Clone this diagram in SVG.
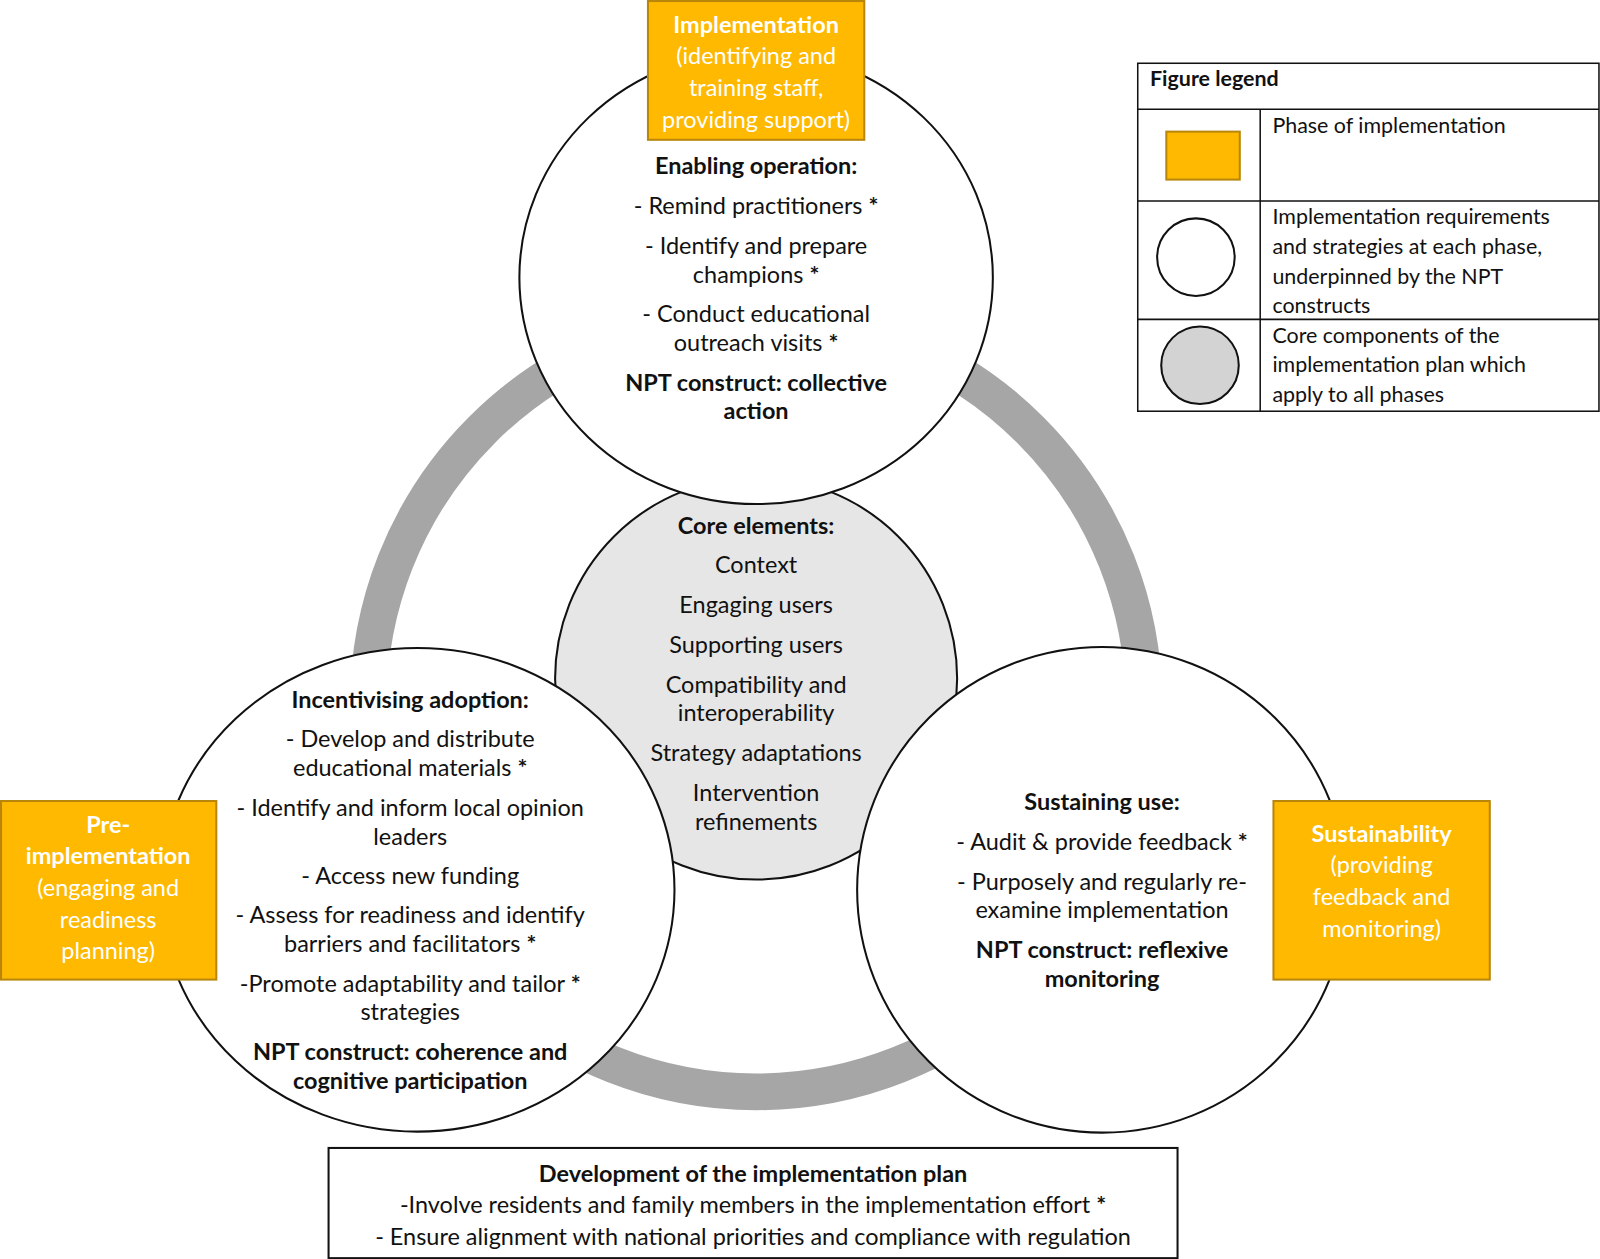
<svg xmlns="http://www.w3.org/2000/svg" width="1600" height="1259" viewBox="0 0 1600 1259">
<style>
text{font-family:Lato,"Open Sans",sans-serif;font-size:23px;fill:#111;text-anchor:middle}
.b{font-weight:bold}
.w{fill:#fff}
.l{text-anchor:start;font-size:21px}
.c{fill:#fff;stroke:#111;stroke-width:2}
.o{fill:#ffb900;stroke:#b8860b;stroke-width:2}
</style>
<rect width="1600" height="1259" fill="#fff"/>
<g transform="scale(1.0204)">
<g id="connectors">
<circle cx="741" cy="690" r="380" fill="none" stroke="#a6a6a6" stroke-width="36"/>
</g>
<g id="core">
<circle cx="741" cy="665" r="197" fill="#e6e6e6" stroke="#111" stroke-width="2"/>
<text x="741" y="523" class="b">Core elements:</text>
<text x="741" y="562">Context</text>
<text x="741" y="601">Engaging users</text>
<text x="741" y="640">Supporting users</text>
<text x="741" y="679">Compatibility and</text>
<text x="741" y="707">interoperability</text>
<text x="741" y="746">Strategy adaptations</text>
<text x="741" y="785">Intervention</text>
<text x="741" y="813">refinements</text>
</g>
<g id="top">
<ellipse cx="741" cy="272" rx="232" ry="222" class="c"/>
<text x="741" y="171" class="b">Enabling operation:</text>
<text x="741" y="210">- Remind practitioners <tspan class="b">*</tspan></text>
<text x="741" y="249">- Identify and prepare</text>
<text x="741" y="277">champions <tspan class="b">*</tspan></text>
<text x="741" y="316">- Conduct educational</text>
<text x="741" y="344">outreach visits <tspan class="b">*</tspan></text>
<text x="741" y="383" class="b">NPT construct: collective</text>
<text x="741" y="411" class="b">action</text>
</g>
<g id="left">
<ellipse cx="409" cy="872" rx="252" ry="237" class="c"/>
<text x="402" y="694" class="b">Incentivising adoption:</text>
<text x="402" y="732">- Develop and distribute</text>
<text x="402" y="760">educational materials <tspan class="b">*</tspan></text>
<text x="402" y="800">- Identify and inform local opinion</text>
<text x="402" y="828">leaders</text>
<text x="402" y="866">- Access new funding</text>
<text x="402" y="905">-  Assess for readiness and identify</text>
<text x="402" y="933">barriers and facilitators <tspan class="b">*</tspan></text>
<text x="402" y="972">-Promote adaptability and tailor <tspan class="b">*</tspan></text>
<text x="402" y="1000">strategies</text>
<text x="402" y="1039" class="b">NPT construct: coherence and</text>
<text x="402" y="1067" class="b">cognitive participation</text>
</g>
<g id="right">
<ellipse cx="1080" cy="872" rx="240" ry="238" class="c"/>
<text x="1080" y="794" class="b">Sustaining use:</text>
<text x="1080" y="833">- Audit &amp; provide feedback <tspan class="b">*</tspan></text>
<text x="1080" y="872">- Purposely and regularly re-</text>
<text x="1080" y="900">examine implementation</text>
<text x="1080" y="939" class="b">NPT construct: reflexive</text>
<text x="1080" y="967" class="b">monitoring</text>
</g>
<g id="phase-impl">
<rect x="635" y="1" width="212" height="136" class="o"/>
<text x="741" y="32" class="b w">Implementation</text>
<text x="741" y="63" class="w">(identifying and</text>
<text x="741" y="94" class="w">training staff,</text>
<text x="741" y="125" class="w">providing support)</text>
</g>
<g id="phase-pre">
<rect x="1" y="785" width="211" height="175" class="o"/>
<text x="106" y="816" class="b w">Pre-</text>
<text x="106" y="847" class="b w">implementation</text>
<text x="106" y="878" class="w">(engaging and</text>
<text x="106" y="909" class="w">readiness</text>
<text x="106" y="940" class="w">planning)</text>
</g>
<g id="phase-sus">
<rect x="1248" y="785" width="212" height="175" class="o"/>
<text x="1354" y="825" class="b w">Sustainability</text>
<text x="1354" y="856" class="w">(providing</text>
<text x="1354" y="887" class="w">feedback and</text>
<text x="1354" y="918" class="w">monitoring)</text>
</g>
<g id="legend" stroke="#111" stroke-width="1.5">
<rect x="1115" y="62" width="452" height="341" fill="#fff"/>
<line x1="1115" y1="107" x2="1567" y2="107"/>
<line x1="1115" y1="197" x2="1567" y2="197"/>
<line x1="1115" y1="313" x2="1567" y2="313"/>
<line x1="1235" y1="107" x2="1235" y2="403"/>
<rect x="1143" y="129" width="72" height="47" class="o"/>
<circle cx="1172" cy="252" r="38" fill="#fff" stroke-width="2"/>
<circle cx="1176" cy="358" r="38" fill="#d3d3d3" stroke-width="2"/>
<g stroke="none">
<text x="1127" y="84" class="l b">Figure legend</text>
<text x="1247" y="130" class="l">Phase of implementation</text>
<text x="1247" y="220" class="l">Implementation requirements</text>
<text x="1247" y="249" class="l">and strategies at each phase,</text>
<text x="1247" y="278" class="l">underpinned by the NPT</text>
<text x="1247" y="307" class="l">constructs</text>
<text x="1247" y="336" class="l">Core components of the</text>
<text x="1247" y="365" class="l">implementation plan which</text>
<text x="1247" y="394" class="l">apply to all phases</text>
</g>
</g>
<g id="plan">
<rect x="322" y="1125" width="832" height="108" fill="#fff" stroke="#111" stroke-width="2"/>
<text x="738" y="1158" class="b">Development of the implementation plan</text>
<text x="738" y="1189">-Involve residents and family members in the implementation effort <tspan class="b">*</tspan></text>
<text x="738" y="1220">- Ensure alignment with national priorities and compliance with regulation</text>
</g>
</g>
</svg>
